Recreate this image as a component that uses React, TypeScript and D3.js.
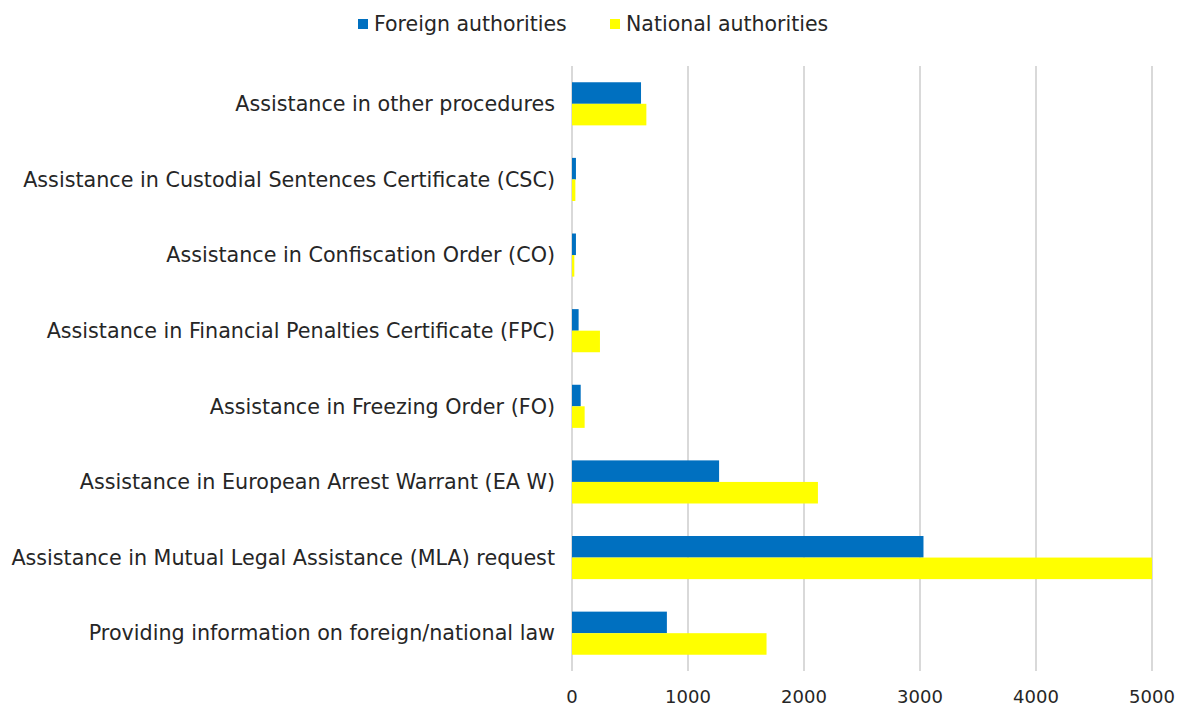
import React from "react";
import * as d3 from "d3";

const categories = [
  "Assistance in other procedures",
  "Assistance in Custodial Sentences Certificate (CSC)",
  "Assistance in Confiscation Order (CO)",
  "Assistance in Financial Penalties Certificate (FPC)",
  "Assistance in Freezing Order (FO)",
  "Assistance in European Arrest Warrant (EA W)",
  "Assistance in Mutual Legal Assistance (MLA) request",
  "Providing information on foreign/national law",
];
const foreign = [595, 34, 34, 57, 75, 1268, 3030, 818];
const national = [641, 29, 20, 241, 109, 2120, 5000, 1677];
const seriesNames = ["Foreign authorities", "National authorities"];
const seriesColors = ["#0070C0", "#FFFF00"];
const xTicks = [0, 1000, 2000, 3000, 4000, 5000];

const W = 1178;
const H = 706;
const left = 572;
const right = 1152;
const top = 66;
const bottom = 671;
const font = "'DejaVu Sans', sans-serif";

export default function App() {
  const x = d3.scaleLinear().domain([0, 5000]).range([left, right]);
  const y = d3.scaleBand().domain(categories).range([top, bottom]).paddingInner(0.43).paddingOuter(0.215);
  const sub = d3.scaleBand().domain(seriesNames).range([0, y.bandwidth()]);
  const series = [foreign, national];
  return (
    <svg width={W} height={H} style={{ position: "absolute", left: 0, top: 0, background: "#fff" }}>
      {xTicks.map((t) => (
        <line key={t} x1={x(t)} x2={x(t)} y1={top} y2={bottom} stroke="#d9d9d9" strokeWidth={2} />
      ))}
      {series.map((vals, si) =>
        categories.map((c, i) => (
          <rect
            key={si + "-" + c}
            x={x(0)}
            y={(y(c) as number) + (sub(seriesNames[si]) as number)}
            width={x(Math.min(vals[i], 5000)) - x(0)}
            height={sub.bandwidth()}
            fill={seriesColors[si]}
          />
        ))
      )}
      {categories.map((c) => (
        <text
          key={c}
          x={555}
          y={(y(c) as number) + y.bandwidth() / 2}
          dy="0.35em"
          textAnchor="end"
          fontFamily={font}
          fontSize={20.7}
          fill="#262626"
        >
          {c}
        </text>
      ))}
      {xTicks.map((t) => (
        <text key={"l" + t} x={x(t)} y={703} textAnchor="middle" fontFamily={font} fontSize={18} fill="#262626">
          {t}
        </text>
      ))}
      {seriesNames.map((s, i) => {
        const lx = [358, 610][i];
        return (
          <g key={s}>
            <rect x={lx} y={19} width={10} height={10} fill={seriesColors[i]} />
            <text x={lx + 16} y={31} fontFamily={font} fontSize={20.5} fill="#262626">
              {s}
            </text>
          </g>
        );
      })}
    </svg>
  );
}
